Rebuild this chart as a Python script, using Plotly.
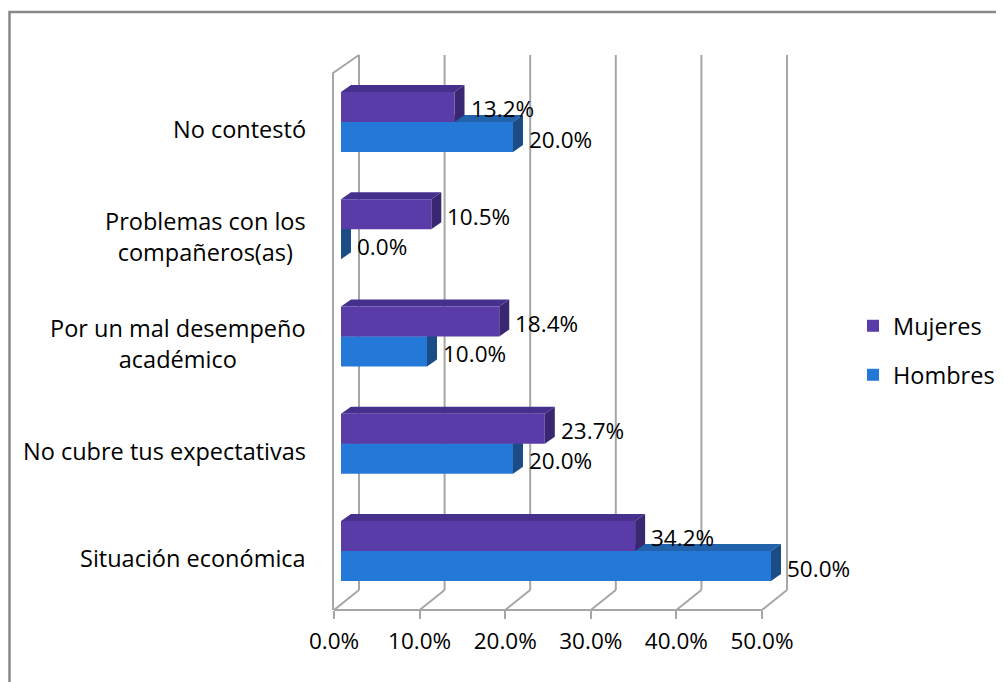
import plotly.graph_objects as go

# data
categorias = ["Situación económica", "No cubre tus expectativas",
              "Por un mal desempeño<br>académico", "Problemas con los<br>compañeros(as)",
              "No contestó"]
hombres = [50.0, 20.0, 10.0, 0.0, 20.0]
mujeres = [34.2, 23.7, 18.4, 10.5, 13.2]
ticks = [0, 10, 20, 30, 40, 50]
tick_labels = ["0.0%", "10.0%", "20.0%", "30.0%", "40.0%", "50.0%"]

FONT = "Open Sans"
FS_CAT = 23.5
FS_NUM = 22.5
OFF = 8                                 # page body margin
W, H = 1004, 682
L, R, T, B = 330, 800, 50, 610          # plot area in screen px
PX_PER_PCT = 8.6
ZERO_PX = 341
ROW_PX = 107.25
ROW0_PY = 551

def px2x(px):
    return (px - L) / (R - L)

def py2y(py):
    return (B - py) / (B - T)

xrange_main = [(L - ZERO_PX) / PX_PER_PCT, (R - ZERO_PX) / PX_PER_PCT]
yrange = [(ROW0_PY - B) / ROW_PX, (ROW0_PY - T) / ROW_PX]
xrange_front = [(L - 334) / 8.56, (R - 334) / 8.56]

series = [
    dict(name="Hombres", vals=hombres, front="#2479D8", top="#2262AA", side="#1B4C86", legend="legend2"),
    dict(name="Mujeres", vals=mujeres, front="#5A3CA9", top="#46308D", side="#3A2772", legend="legend"),
]
BAR_W = 0.28
DX = 10 / PX_PER_PCT
DY = 7 / ROW_PX
ypos = list(range(len(categorias)))

fig = go.Figure()
shapes = []
annotations = []

for k, s in enumerate(series):
    fig.add_trace(go.Bar(
        x=s["vals"], y=ypos, orientation="h", name=s["name"],
        marker=dict(color=s["front"], line=dict(width=0)),
        legend=s["legend"], hoverinfo="skip",
    ))
    for i, v in enumerate(s["vals"]):
        yc = i + (k - 0.5) * BAR_W
        yb, yt = yc - BAR_W / 2, yc + BAR_W / 2
        # top face
        shapes.append(dict(type="path", xref="x", yref="y", layer="below",
                           path=f"M 0,{yt} L {DX},{yt+DY} L {v+DX},{yt+DY} L {v},{yt} Z",
                           fillcolor=s["top"], line=dict(width=0)))
        # side face
        shapes.append(dict(type="path", xref="x", yref="y", layer="below",
                           path=f"M {v},{yb} L {v+DX},{yb+DY} L {v+DX},{yt+DY} L {v},{yt} Z",
                           fillcolor=s["side"], line=dict(width=0)))
        annotations.append(dict(x=v, y=yc, xref="x", yref="y", text=f"{v:.1f}%",
                                showarrow=False, xanchor="left", xshift=14, yshift=-2,
                                font=dict(family=FONT, size=FS_NUM, color="#000")))

# walls: back gridlines, floor diagonals, floor edge, left wall
GRID = "#a6a6a6"
for k in range(6):
    bx = 359 + 85.6 * k
    fx = 334 + 85.6 * k
    shapes.append(dict(type="line", xref="paper", yref="paper", layer="below",
                       x0=px2x(bx), x1=px2x(bx), y0=py2y(55), y1=py2y(590),
                       line=dict(color=GRID, width=2)))
    shapes.append(dict(type="line", xref="paper", yref="paper", layer="below",
                       x0=px2x(fx), x1=px2x(bx), y0=py2y(610), y1=py2y(590),
                       line=dict(color=GRID, width=2)))
shapes.append(dict(type="line", xref="paper", yref="paper", layer="below",
                   x0=px2x(334), x1=px2x(762), y0=py2y(610), y1=py2y(610),
                   line=dict(color=GRID, width=2)))
shapes.append(dict(type="path", xref="paper", yref="paper", layer="below",
                   path=f"M {px2x(333)},{py2y(610)} L {px2x(333)},{py2y(73)} L {px2x(359)},{py2y(55)}",
                   line=dict(color=GRID, width=2)))
# outer frame (right and bottom edges fall outside the picture)
shapes.append(dict(type="rect", xref="paper", yref="paper", layer="below",
                   x0=px2x(9.5), x1=px2x(1030), y0=py2y(12), y1=py2y(720),
                   line=dict(color="#888888", width=2.5)))

# category labels
for i, c in enumerate(categorias):
    annotations.append(dict(x=px2x(308), y=i, xref="paper", yref="y", text=c,
                            showarrow=False, xanchor="right", align="center", yshift=-7,
                            font=dict(family=FONT, size=FS_CAT, color="#000")))

# dummy trace so the front tick axis is drawn
fig.add_trace(go.Scatter(x=[None], y=[None], xaxis="x2", showlegend=False, hoverinfo="skip"))

fig.update_layout(
    width=W, height=H,
    margin=dict(l=L - OFF, r=W - R + OFF, t=T - OFF, b=H - B + OFF),
    paper_bgcolor="white", plot_bgcolor="rgba(0,0,0,0)",
    barmode="group", bargap=0.44, bargroupgap=0,
    showlegend=True,
    xaxis=dict(range=xrange_main, visible=False, fixedrange=True),
    xaxis2=dict(range=xrange_front, overlaying="x", anchor="y", side="bottom",
                tickvals=ticks, ticktext=tick_labels, ticks="outside", ticklen=8,
                ticklabelstandoff=3,
                tickwidth=2, tickcolor=GRID, showgrid=False, zeroline=False, showline=False,
                tickfont=dict(family=FONT, size=FS_NUM, color="#000")),
    yaxis=dict(range=yrange, visible=False, fixedrange=True),
    legend=dict(x=px2x(853), y=py2y(326), xanchor="left", yanchor="middle",
                font=dict(family=FONT, size=FS_CAT, color="#000"), bgcolor="rgba(0,0,0,0)"),
    legend2=dict(x=px2x(853), y=py2y(375), xanchor="left", yanchor="middle",
                 font=dict(family=FONT, size=FS_CAT, color="#000"), bgcolor="rgba(0,0,0,0)"),
    shapes=shapes,
    annotations=annotations,
)

fig.write_html("out.html")
